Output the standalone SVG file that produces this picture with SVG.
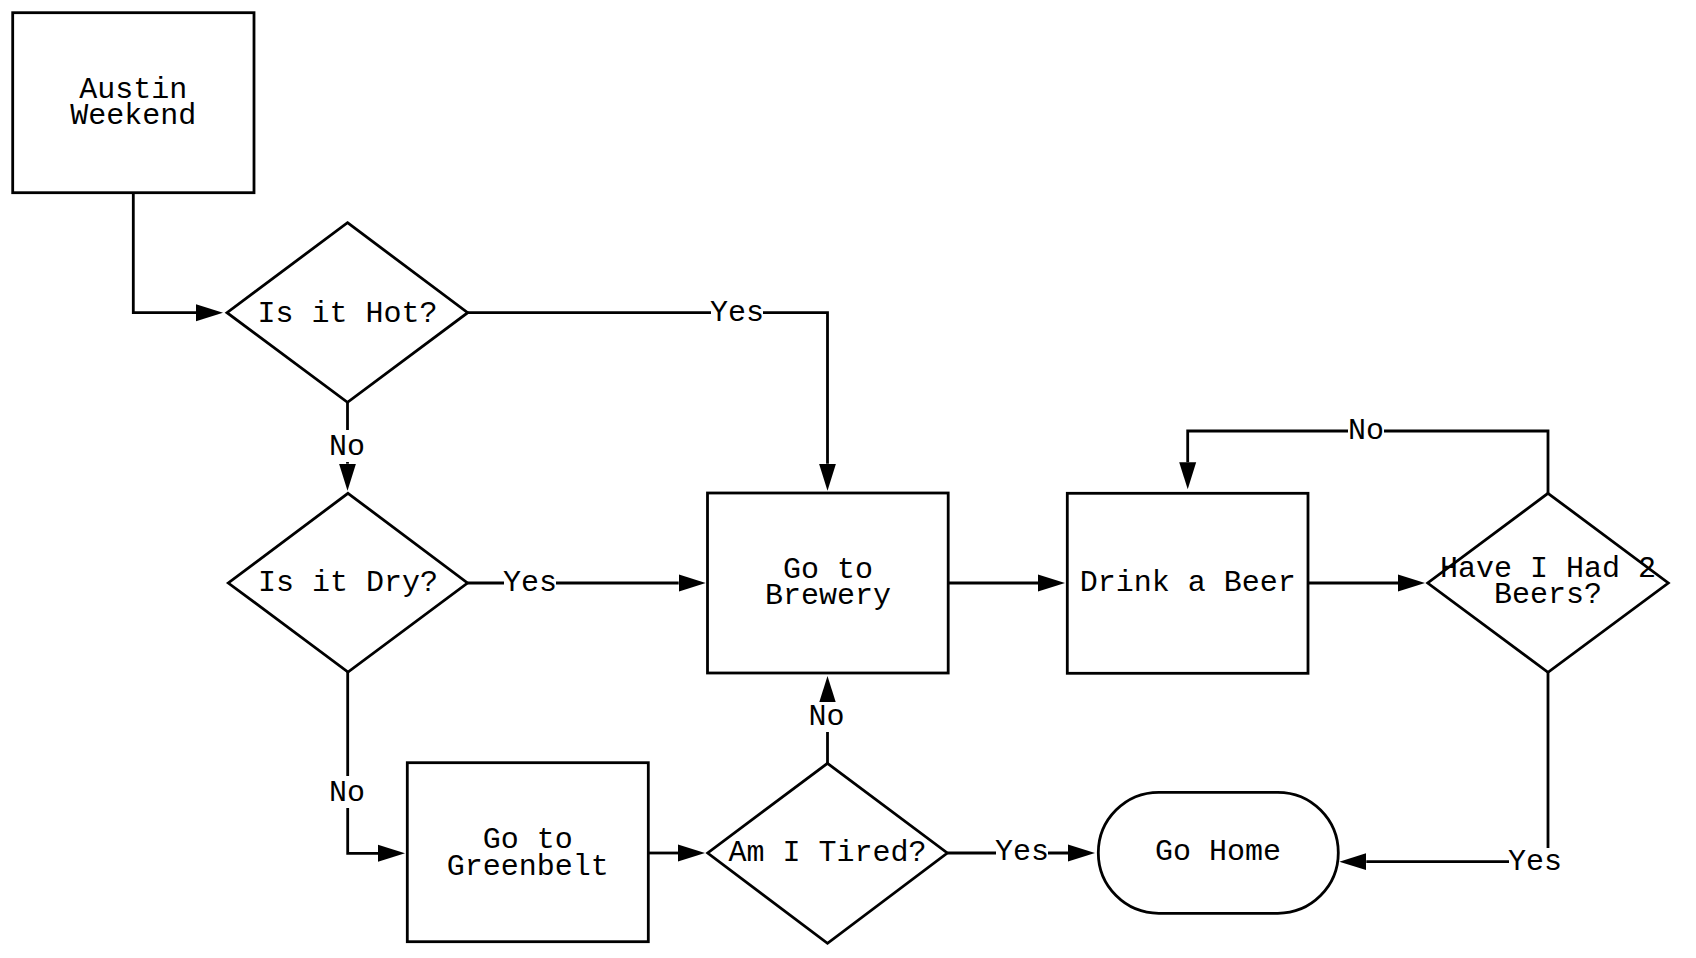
<svg xmlns="http://www.w3.org/2000/svg" width="1696" height="958" viewBox="0 0 1696 958">
  <style>
    .node { fill: #ffffff; stroke: #000000; stroke-width: 2.8; }
    .edge { fill: none; stroke: #000000; stroke-width: 2.8; }
    .txt { font-family: "Liberation Mono", "DejaVu Sans Mono", monospace; font-size: 30px; fill: #000000; text-anchor: middle; }
    .lblbg { fill: #ffffff; stroke: none; }
  </style>
  <defs>
    <marker id="arrow" markerUnits="userSpaceOnUse" markerWidth="28" markerHeight="18" refX="0" refY="8.5" orient="auto" viewBox="0 0 28 17">
      <path d="M0,0 L27,8.5 L0,17 Z" fill="#000000"/>
    </marker>
  </defs>
  <rect width="1696" height="958" fill="#ffffff"/>

  <g id="connectors">
    <path class="edge" d="M133.3,192.7 V312.7 H196" marker-end="url(#arrow)"/>
    <path class="edge" d="M467.7,312.7 H827.5 V463.7" marker-end="url(#arrow)"/>
    <path class="edge" d="M347.5,402.3 V463.7" marker-end="url(#arrow)"/>
    <path class="edge" d="M467.3,583 H678.7" marker-end="url(#arrow)"/>
    <path class="edge" d="M347.7,672 V853.3 H378" marker-end="url(#arrow)"/>
    <path class="edge" d="M648.3,853 H678" marker-end="url(#arrow)"/>
    <path class="edge" d="M827.5,763.3 V703" marker-end="url(#arrow)"/>
    <path class="edge" d="M947.3,853 H1068" marker-end="url(#arrow)"/>
    <path class="edge" d="M948,583 H1038" marker-end="url(#arrow)"/>
    <path class="edge" d="M1308,583 H1398" marker-end="url(#arrow)"/>
    <path class="edge" d="M1548,493.3 V431 H1187.7 V462.3" marker-end="url(#arrow)"/>
    <path class="edge" d="M1548,672 V861.7 H1366.3" marker-end="url(#arrow)"/>

    <rect class="lblbg" x="711" y="296" width="52" height="32"/>
    <text class="txt" x="737" y="321">Yes</text>
    <rect class="lblbg" x="329" y="430" width="36" height="32"/>
    <text class="txt" x="347" y="455">No</text>
    <rect class="lblbg" x="504" y="566" width="52" height="32"/>
    <text class="txt" x="530" y="591">Yes</text>
    <rect class="lblbg" x="329" y="776" width="36" height="32"/>
    <text class="txt" x="347" y="801">No</text>
    <rect class="lblbg" x="808.5" y="702" width="36" height="30"/>
    <text class="txt" x="826.5" y="725">No</text>
    <rect class="lblbg" x="996" y="835" width="52" height="32"/>
    <text class="txt" x="1022" y="860">Yes</text>
    <rect class="lblbg" x="1348" y="414" width="36" height="32"/>
    <text class="txt" x="1366" y="439.3">No</text>
    <rect class="lblbg" x="1509" y="848" width="53" height="30"/>
    <text class="txt" x="1535" y="870">Yes</text>
  </g>

  <g id="austin">
    <rect class="node" x="12.7" y="12.7" width="241.3" height="180"/>
    <text class="txt" x="133.3" y="97.7">Austin</text>
    <text class="txt" x="133.3" y="124.3">Weekend</text>
  </g>
  <g id="hot">
    <polygon class="node" points="347.5,222.7 467.7,312.7 347.5,402.3 227,312.7"/>
    <text class="txt" x="347.5" y="321.7">Is it Hot?</text>
  </g>
  <g id="dry">
    <polygon class="node" points="348,493.3 467.5,583 348,672 228.3,583"/>
    <text class="txt" x="348" y="591">Is it Dry?</text>
  </g>
  <g id="brewery">
    <rect class="node" x="707.5" y="493" width="240.7" height="180"/>
    <text class="txt" x="828" y="577.7">Go to</text>
    <text class="txt" x="828" y="604.3">Brewery</text>
  </g>
  <g id="drink">
    <rect class="node" x="1067.3" y="493.3" width="240.7" height="180"/>
    <text class="txt" x="1187.7" y="591">Drink a Beer</text>
  </g>
  <g id="twobeers">
    <polygon class="node" points="1548,493.3 1668.3,583 1548,672.3 1427.7,583"/>
    <text class="txt" x="1548" y="576.7">Have I Had 2</text>
    <text class="txt" x="1548" y="602.7">Beers?</text>
  </g>
  <g id="greenbelt">
    <rect class="node" x="407.3" y="762.7" width="241" height="179"/>
    <text class="txt" x="527.8" y="848.3">Go to</text>
    <text class="txt" x="527.8" y="875">Greenbelt</text>
  </g>
  <g id="tired">
    <polygon class="node" points="827.5,763.3 947.3,853 827.5,943.3 707.7,853"/>
    <text class="txt" x="827.5" y="861">Am I Tired?</text>
  </g>
  <g id="gohome">
    <rect class="node" x="1098.3" y="792.3" width="240" height="121" rx="60.5" ry="60.5"/>
    <text class="txt" x="1218" y="860">Go Home</text>
  </g>
</svg>
